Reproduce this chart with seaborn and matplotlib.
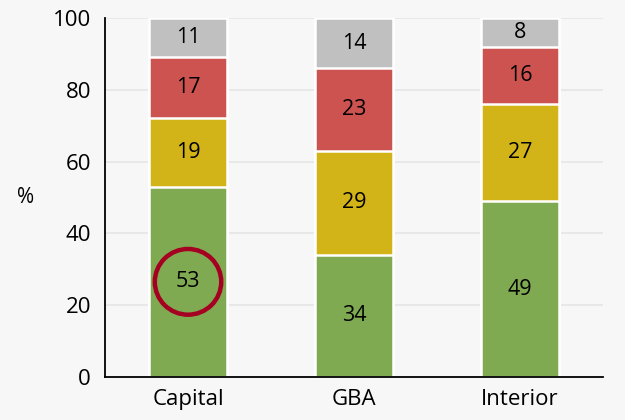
import numpy as np
import pandas as pd
import matplotlib
matplotlib.use("Agg")
import matplotlib.pyplot as plt
import seaborn as sns
from matplotlib.patches import Ellipse

CATEGORIES = ["Capital", "GBA", "Interior"]
SEGMENTS = ["s1", "s2", "s3", "s4"]
GREEN = [53, 34, 49]
YELLOW = [19, 29, 27]
RED = [17, 23, 16]
GRAY = [11, 14, 8]
COLORS = ["#7faa52", "#d2b418", "#cc5350", "#c0c0c0"]

sns.set_theme(style="white")
plt.rcParams["font.family"] = ["Open Sans", "DejaVu Sans"]

BG = "#f7f7f7"

df = pd.DataFrame({"category": CATEGORIES, "s1": GREEN, "s2": YELLOW, "s3": RED, "s4": GRAY})
cum = df[SEGMENTS].cumsum(axis=1)

fig = plt.figure(figsize=(6.25, 4.2), dpi=100, facecolor=BG)
ax = fig.add_axes([0.168, 0.1024, 0.797, 0.855])
ax.set_facecolor(BG)

for y in [20, 40, 60, 80, 100]:
    ax.axhline(y, color="#e6e6e6", linewidth=1.2, zorder=0)

# draw cumulative totals, tallest first, so each layer sits on the one below
for seg, color in reversed(list(zip(SEGMENTS, COLORS))):
    sns.barplot(x=df["category"], y=cum[seg], color=color, width=0.47,
                edgecolor="white", linewidth=1.8, saturation=1, ax=ax, zorder=2)

for i, cat in enumerate(CATEGORIES):
    prev = 0
    for seg in SEGMENTS:
        val = df.loc[i, seg]
        ax.text(i, prev + val / 2, str(val), ha="center", va="center",
                fontsize=15.5, color="black", zorder=4)
        prev += val

# highlight on Capital green segment
circ = Ellipse((0, GREEN[0] / 2), width=0.40, height=18.3, fill=False,
               edgecolor="#a50021", linewidth=3.2, zorder=5)
ax.add_patch(circ)

ax.set_xlim(-0.5, 2.5)
ax.set_ylim(0, 100)
ax.set_yticks([0, 20, 40, 60, 80, 100])
ax.set_xticks([0, 1, 2])
ax.set_xticklabels(CATEGORIES)
ax.set_xticks([-0.5, 0.5, 1.5, 2.5], minor=True)
ax.tick_params(axis="x", which="major", length=0, pad=9, labelsize=16, labelcolor="black")
ax.tick_params(axis="x", which="minor", length=6, width=1.3, direction="out", color="black")
ax.tick_params(axis="y", length=6, width=1.3, direction="out", color="black",
               labelsize=16, labelcolor="black", pad=4)
ax.set_xlabel("")
ax.set_ylabel("%", rotation=0, fontsize=15, labelpad=20, va="center", color="black")

for side in ["top", "right"]:
    ax.spines[side].set_visible(False)
for side in ["left", "bottom"]:
    ax.spines[side].set_color("black")
    ax.spines[side].set_linewidth(1.3)

fig.savefig("out.png", dpi=100, facecolor=BG)
